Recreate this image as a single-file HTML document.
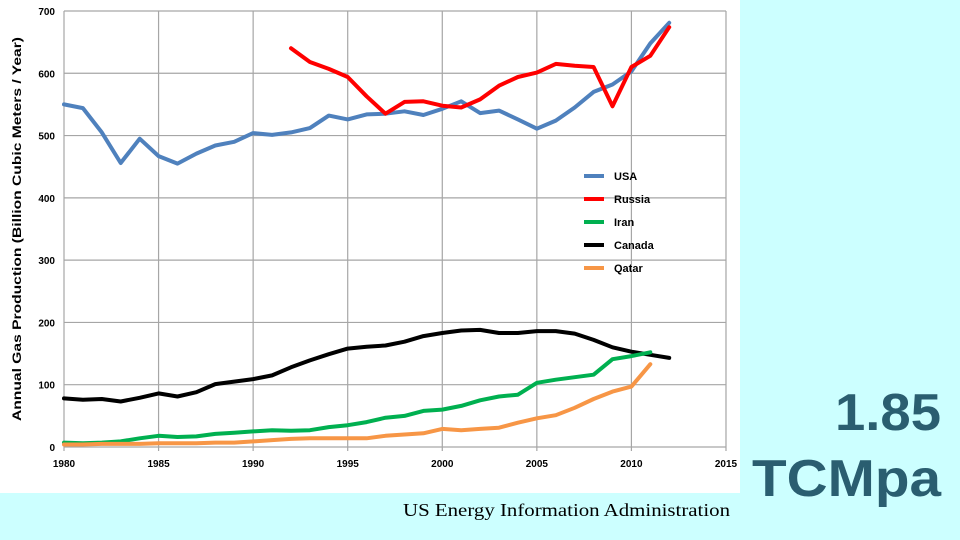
<!DOCTYPE html>
<html><head><meta charset="utf-8"><style>
html,body{margin:0;padding:0;width:960px;height:540px;overflow:hidden;background:#ccffff;}
svg{position:absolute;left:0;top:0}
</style></head><body>
<svg width="960" height="540" xmlns="http://www.w3.org/2000/svg" font-family="Liberation Sans, sans-serif">
<rect x="0" y="0" width="740" height="493" fill="#fff"/>
<g id="grid" stroke="#a6a6a6" stroke-width="1.2"></g>
<g id="lbl" font-size="10" font-weight="bold" fill="#000"></g>
<text transform="translate(21,229) rotate(-90)" text-anchor="middle" font-size="11.5" font-weight="bold" textLength="384" lengthAdjust="spacingAndGlyphs">Annual Gas Production (Billion Cubic Meters / Year)</text>
<g id="series" fill="none" stroke-width="4" stroke-linejoin="round" stroke-linecap="round"></g>
<g font-size="11" font-weight="bold">
<line x1="584" y1="176" x2="604" y2="176" stroke="#4f81bd" stroke-width="4"/><text x="614" y="180">USA</text>
<line x1="584" y1="199" x2="604" y2="199" stroke="#ff0000" stroke-width="4"/><text x="614" y="203">Russia</text>
<line x1="584" y1="222" x2="604" y2="222" stroke="#00b050" stroke-width="4"/><text x="614" y="226">Iran</text>
<line x1="584" y1="245" x2="604" y2="245" stroke="#000" stroke-width="4"/><text x="614" y="249">Canada</text>
<line x1="584" y1="268" x2="604" y2="268" stroke="#f79646" stroke-width="4"/><text x="614" y="272">Qatar</text>
</g>
<text x="403" y="516" font-family="Liberation Serif, serif" font-size="18" textLength="327" lengthAdjust="spacingAndGlyphs">US Energy Information Administration</text>
<text x="835" y="430" font-size="52" font-weight="bold" fill="#2a5e70" textLength="106" lengthAdjust="spacingAndGlyphs">1.85</text>
<text x="752" y="496" font-size="52" font-weight="bold" fill="#2a5e70" textLength="189" lengthAdjust="spacingAndGlyphs">TCMpa</text>
</svg>
<script>
var X=function(y){return 64+(y-1980)*18.914},Y=function(v){return 447-v*0.6229};
var g=document.getElementById('grid'),l=document.getElementById('lbl'),s='',t='';
for(var v=0;v<=700;v+=100){s+='<line x1="64" x2="726" y1="'+Y(v)+'" y2="'+Y(v)+'"/>';t+='<text x="55" y="'+(Y(v)+4)+'" text-anchor="end">'+v+'</text>';}
for(var y=1980;y<=2015;y+=5){s+='<line x1="'+X(y)+'" x2="'+X(y)+'" y1="11" y2="451"/>';t+='<text x="'+X(y)+'" y="467" text-anchor="middle">'+y+'</text>';}
g.innerHTML=s;l.innerHTML=t;
var D={
'#4f81bd':[1980,[550,544,505,456,495,467,455,471,484,490,504,501,505,512,532,526,534,535,539,533,543,555,536,540,526,511,524,545,570,582,603,648,681]],
'#ff0000':[1992,[640,618,607,594,563,535,554,555,548,545,558,580,594,601,615,612,610,547,610,628,674]],
'#000000':[1980,[78,76,77,73,79,86,81,88,101,105,109,115,128,139,149,158,161,163,169,178,183,187,188,183,183,186,186,182,172,160,153,148,143]],
'#00b050':[1980,[7,6,7,9,14,18,16,17,21,23,25,27,26,27,32,35,40,47,50,58,60,66,75,81,84,103,108,112,116,141,146,152]],
'#f79646':[1980,[4,4,5,5,5,6,6,6,7,7,9,11,13,14,14,14,14,18,20,22,29,27,29,31,39,46,51,63,77,89,97,133]]};
var h='';for(var c in D){var p=D[c][1].map(function(v,i){return X(D[c][0]+i).toFixed(1)+','+Y(v).toFixed(1)}).join(' ');h+='<polyline stroke="'+c+'" points="'+p+'"/>';}
document.getElementById('series').innerHTML=h;
</script>
</body></html>
